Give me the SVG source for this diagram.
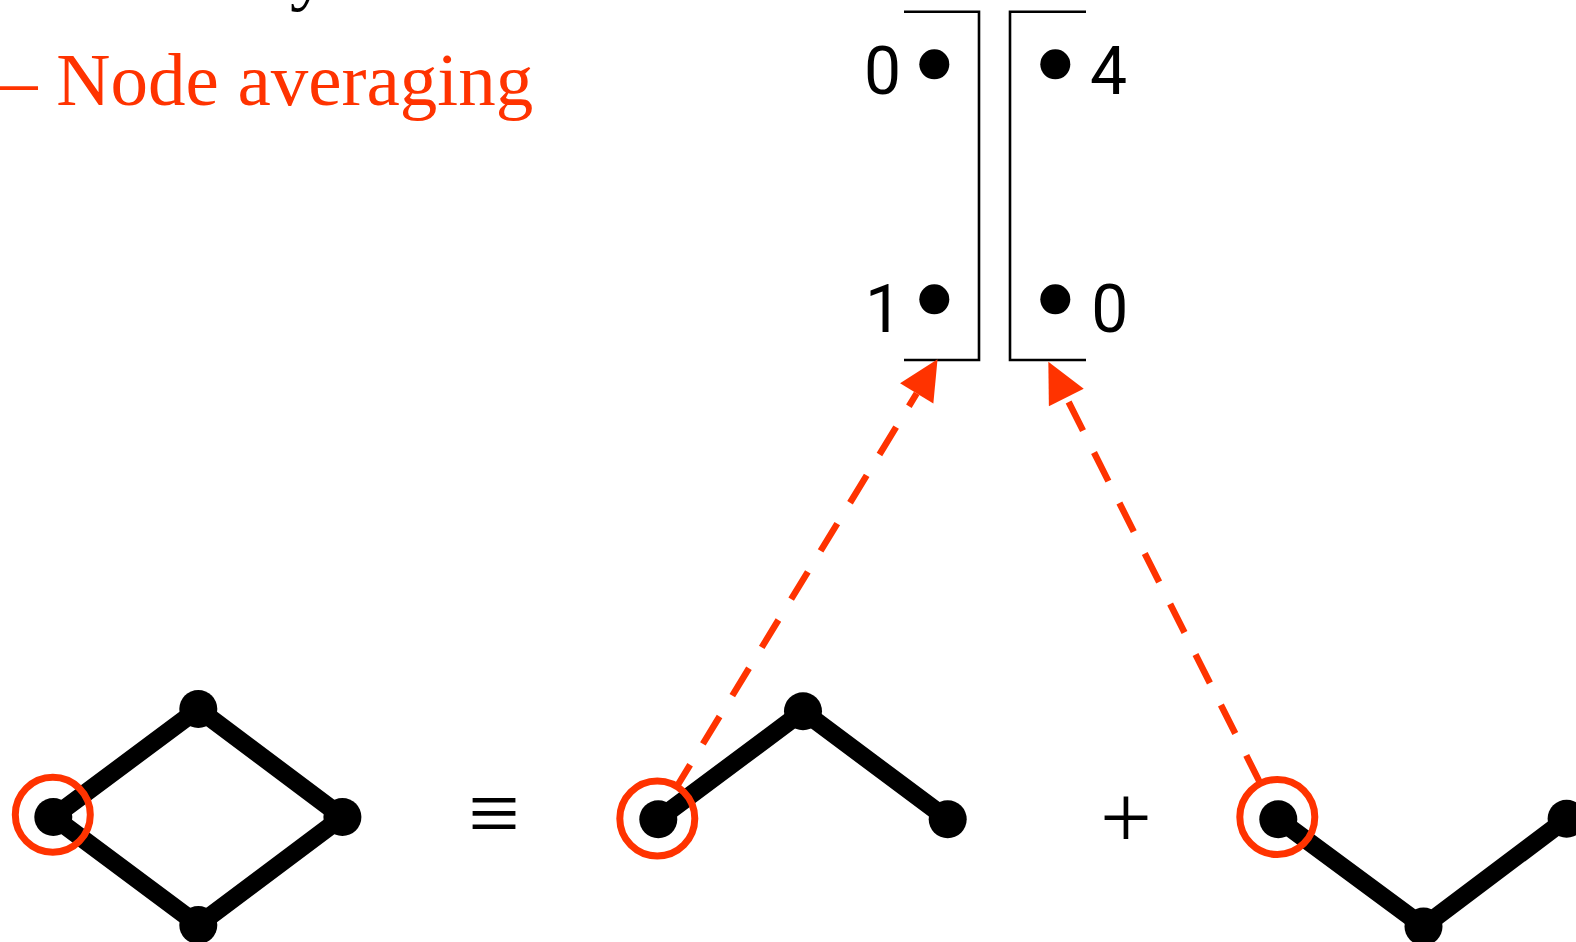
<svg xmlns="http://www.w3.org/2000/svg" width="1576" height="942" viewBox="0 0 1576 942">
<style>
.edge{stroke:#000;stroke-width:18;fill:none;stroke-linecap:butt}
.dot{fill:#000}
.ring{fill:none;stroke:#ff3300;stroke-width:7}
.br{fill:none;stroke:#000;stroke-width:2.6}
.dash{stroke:#ff3300;stroke-width:6.5;fill:none;stroke-dasharray:32 24.5}
.num{font-family:Roboto,"Liberation Sans",Arial,sans-serif;font-size:66px;fill:#000}
.op{font-family:"Liberation Serif","Times New Roman",serif;font-size:92px;fill:#000}
.title{font-family:"Liberation Serif","Times New Roman",serif;font-size:75px}
</style>
<defs>
<marker id="ah" markerUnits="userSpaceOnUse" markerWidth="42" markerHeight="42" viewBox="0 -21 42 42" refX="0" refY="0" orient="auto" overflow="visible">
<path d="M0,-19.5 L40,0 L0,19.5 z" fill="#ff3300"/>
</marker>
</defs>
<rect width="1576" height="942" fill="#fff"/>
<g id="title">
<text class="title" x="290" y="-4" fill="#000">y</text>
<text class="title" x="0" y="105" fill="#ff3300">– Node averaging</text>
</g>
<g id="bracket-left">
<polyline class="br" points="904,11.7 979,11.7 979,360 904,360"/>
<circle class="dot" cx="934.3" cy="64.3" r="15"/>
<circle class="dot" cx="934.3" cy="299.3" r="15"/>
<text class="num" x="901" y="94" text-anchor="end">0</text>
<text class="num" x="902" y="331.8" text-anchor="end">1</text>
</g>
<g id="bracket-right">
<polyline class="br" points="1086,11.7 1010,11.7 1010,360 1086,360"/>
<circle class="dot" cx="1055.3" cy="64.3" r="15"/>
<circle class="dot" cx="1055.3" cy="299.3" r="15"/>
<text class="num" x="1090" y="94.3">4</text>
<text class="num" x="1091.2" y="331.8">0</text>
</g>
<g id="connectors">
<polyline class="edge" points="198.3,709 53.3,817 198.3,925 342.4,817 198.3,709"/>
<polyline class="edge" points="658.3,819.3 803,711.3 947.7,819.3"/>
<polyline class="edge" points="1278.3,819.3 1423.5,926.5 1566.6,818.8"/>
<line class="dash" x1="677.1" y1="786.1" x2="916.7" y2="393.4" stroke-dashoffset="7" marker-end="url(#ah)"/>
<line class="dash" x1="1260.2" y1="783.1" x2="1066.3" y2="397.4" stroke-dashoffset="1" marker-end="url(#ah)"/>
</g>
<g id="graph-full">
<g id="g1-left"><circle class="dot" cx="53.3" cy="817" r="19"/><circle class="ring" cx="52.8" cy="814.8" r="37.5"/></g>
<g id="g1-top"><circle class="dot" cx="198.3" cy="709" r="19"/></g>
<g id="g1-right"><circle class="dot" cx="342.4" cy="817" r="19"/></g>
<g id="g1-bottom"><circle class="dot" cx="198.3" cy="925" r="19"/></g>
</g>
<g id="equiv"><text class="op" x="494.2" y="844" text-anchor="middle">≡</text></g>
<g id="graph-upper">
<g id="g2-left"><circle class="dot" cx="658.3" cy="819.3" r="19"/><circle class="ring" cx="657.3" cy="818.5" r="37.5"/></g>
<g id="g2-top"><circle class="dot" cx="803" cy="711.3" r="19"/></g>
<g id="g2-right"><circle class="dot" cx="947.7" cy="819.3" r="19"/></g>
</g>
<g id="plus"><text class="op" x="1126" y="848" text-anchor="middle">+</text></g>
<g id="graph-lower">
<g id="g3-left"><circle class="dot" cx="1278.3" cy="819.3" r="19"/><circle class="ring" cx="1277.3" cy="817" r="37.5"/></g>
<g id="g3-bottom"><circle class="dot" cx="1423.5" cy="926.5" r="19"/></g>
<g id="g3-right"><circle class="dot" cx="1566.6" cy="818.8" r="19"/></g>
</g>
</svg>
